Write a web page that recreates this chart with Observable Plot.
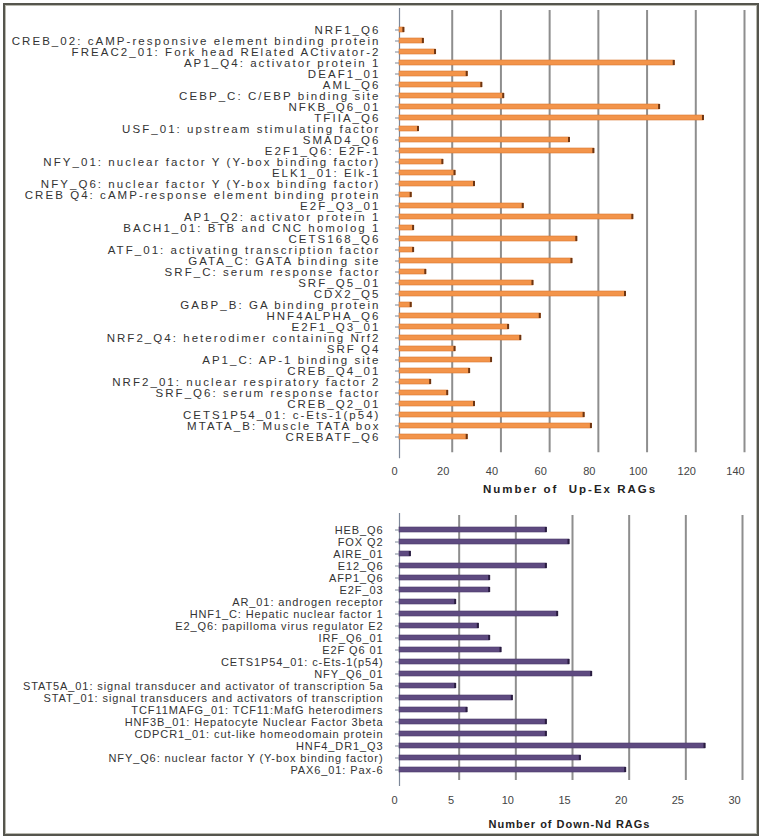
<!DOCTYPE html>
<html>
<head>
<meta charset="utf-8">
<script src="https://cdn.jsdelivr.net/npm/d3@7"></script>
<script src="https://cdn.jsdelivr.net/npm/@observablehq/plot@0.6"></script>
<style>
  html, body { margin: 0; padding: 0; background: #fff; }
  #wrap { position: relative; width: 763px; height: 839px; background: #fff; overflow: hidden;
          font-family: "Liberation Sans", Arial, sans-serif; }
  #border { position: absolute; left: 3px; top: 3px; width: 752px; height: 829px;
            border: 2px solid #55554d; box-shadow: inset 0 0 0 1px #b9b9b0; }
  #top, #bottom { position: absolute; left: 0; }
  #top { top: 0; }
  #bottom { top: 497px; }
  #top svg, #bottom svg { overflow: visible; background: transparent; }
  #top [aria-label="y-axis tick label"] text { letter-spacing: 2.05px; }
  #bottom [aria-label="y-axis tick label"] text { letter-spacing: 0.9px; }
  #top g[aria-label="text"] text { letter-spacing: 2px; }
  #bottom g[aria-label="text"] text { letter-spacing: 1px; }
</style>
</head>
<body>
<div id="wrap">
  <div id="border"></div>
  <div id="top"></div>
  <div id="bottom"></div>
</div>
<script>
// ---- Data: Up-Ex RAGs (top chart) ----
const upLabels = [
  "NRF1_Q6",
  "CREB_02: cAMP-responsive element binding protein",
  "FREAC2_01: Fork head RElated ACtivator-2",
  "AP1_Q4: activator protein 1",
  "DEAF1_01",
  "AML_Q6",
  "CEBP_C: C/EBP binding site",
  "NFKB_Q6_01",
  "TFIIA_Q6",
  "USF_01: upstream stimulating factor",
  "SMAD4_Q6",
  "E2F1_Q6: E2F-1",
  "NFY_01: nuclear factor Y (Y-box binding factor)",
  "ELK1_01: Elk-1",
  "NFY_Q6: nuclear factor Y (Y-box binding factor)",
  "CREB Q4: cAMP-response element binding protein",
  "E2F_Q3_01",
  "AP1_Q2: activator protein 1",
  "BACH1_01: BTB and CNC homolog 1",
  "CETS168_Q6",
  "ATF_01: activating transcription factor",
  "GATA_C: GATA binding site",
  "SRF_C: serum response factor",
  "SRF_Q5_01",
  "CDX2_Q5",
  "GABP_B: GA binding protein",
  "HNF4ALPHA_Q6",
  "E2F1_Q3_01",
  "NRF2_Q4: heterodimer containing Nrf2",
  "SRF Q4",
  "AP1_C: AP-1 binding site",
  "CREB_Q4_01",
  "NRF2_01: nuclear respiratory factor 2",
  "SRF_Q6: serum response factor",
  "CREB_Q2_01",
  "CETS1P54_01: c-Ets-1(p54)",
  "MTATA_B: Muscle TATA box",
  "CREBATF_Q6"
];
const upValues = [2, 10, 15, 113, 28, 34, 43, 107, 125, 8, 70, 80, 18, 23, 31, 5, 51, 96, 6, 73,
                  6, 71, 11, 55, 93, 5, 58, 45, 50, 23, 38, 29, 13, 20, 31, 76, 79, 28];
const upTicks = [0, 20, 40, 60, 80, 100, 120, 140];
const upTitle = "Number of  Up-Ex RAGs";

// ---- Data: Down-Nd RAGs (bottom chart) ----
const downLabels = [
  "HEB_Q6",
  "FOX Q2",
  "AIRE_01",
  "E12_Q6",
  "AFP1_Q6",
  "E2F_03",
  "AR_01: androgen receptor",
  "HNF1_C: Hepatic nuclear factor 1",
  "E2_Q6: papilloma virus regulator E2",
  "IRF_Q6_01",
  "E2F Q6 01",
  "CETS1P54_01: c-Ets-1(p54)",
  "NFY_Q6_01",
  "STAT5A_01: signal transducer and activator of transcription 5a",
  "STAT_01: signal transducers and activators of transcription",
  "TCF11MAFG_01: TCF11:MafG heterodimers",
  "HNF3B_01: Hepatocyte Nuclear Factor 3beta",
  "CDPCR1_01: cut-like homeodomain protein",
  "HNF4_DR1_Q3",
  "NFY_Q6: nuclear factor Y (Y-box binding factor)",
  "PAX6_01: Pax-6"
];
const downValues = [13, 15, 1, 13, 8, 8, 5, 14, 7, 8, 9, 15, 17, 5, 10, 6, 13, 13, 27, 16, 20];
const downTicks = [0, 5, 10, 15, 20, 25, 30];
const downTitle = "Number of Down-Nd RAGs";

const upData = upLabels.map((name, i) => ({name, value: upValues[i]}));
const downData = downLabels.map((name, i) => ({name, value: downValues[i]}));

const ORANGE = "#f3944a";
const ORANGE_EDGE = "#d9772f";
const ORANGE_CAP = "#6e3511";
const PURPLE = "#5e4a80";
const PURPLE_EDGE = "#4a3a68";
const PURPLE_CAP = "#2a1d40";
const GRID = "#8e8e8e";
const AXIS = "#7d8899";
const TEXT = "#333333";

function chart(data, labels, ticks, title, opt) {
  return Plot.plot({
    width: 763,
    height: opt.height,
    marginLeft: 399,
    marginRight: opt.marginRight,
    marginTop: opt.marginTop,
    marginBottom: opt.marginBottom,
    style: {color: TEXT, fontFamily: '"Liberation Sans", Arial, sans-serif', background: "transparent"},
    x: {domain: [ticks[0], ticks[ticks.length - 1]]},
    y: {domain: labels, padding: opt.padding},
    marks: [
      Plot.ruleX(ticks.slice(1), {stroke: GRID, strokeWidth: 2, dx: opt.gridDx, insetTop: 2, insetBottom: 6}),
      Plot.ruleX([0], {stroke: AXIS, strokeWidth: 1.2}),
      Plot.barX(data, {x: "value", y: "name", fill: opt.fill, stroke: opt.edge, strokeWidth: 0.6}),
      Plot.tickX(data, {x: "value", y: "name", stroke: opt.cap, strokeWidth: 2, dx: -1}),
      Plot.axisY({tickSize: 4, tickPadding: opt.yPad, fontSize: opt.yFont, stroke: AXIS, fill: TEXT, label: null}),
      Plot.axisX({ticks, tickSize: 0, tickPadding: opt.xPad, fontSize: 11, dx: -5, fill: "#444", label: null}),
      Plot.text([title], {text: d => d, frameAnchor: "bottom", dy: opt.titleDy, fontWeight: "bold",
                          fontSize: opt.titleFont, fill: "#222", lineAnchor: "middle"})
    ]
  });
}

document.getElementById("top").appendChild(chart(upData, upLabels, upTicks, upTitle, {
  height: 497, marginTop: 8, marginBottom: 38.8, marginRight: 23, gridDx: 4, padding: 0.55,
  fill: ORANGE, edge: ORANGE_EDGE, cap: ORANGE_CAP, yPad: 15, yFont: 11.5, xPad: 8, titleDy: 30.5, titleFont: 11.5
}));

document.getElementById("bottom").appendChild(chart(downData, downLabels, downTicks, downTitle, {
  height: 342, marginTop: 16, marginBottom: 53, marginRight: 24, gridDx: 3, padding: 0.58,
  fill: PURPLE, edge: PURPLE_EDGE, cap: PURPLE_CAP, yPad: 12, yFont: 11, xPad: 10, titleDy: 38, titleFont: 11
}));
</script>
</body>
</html>
